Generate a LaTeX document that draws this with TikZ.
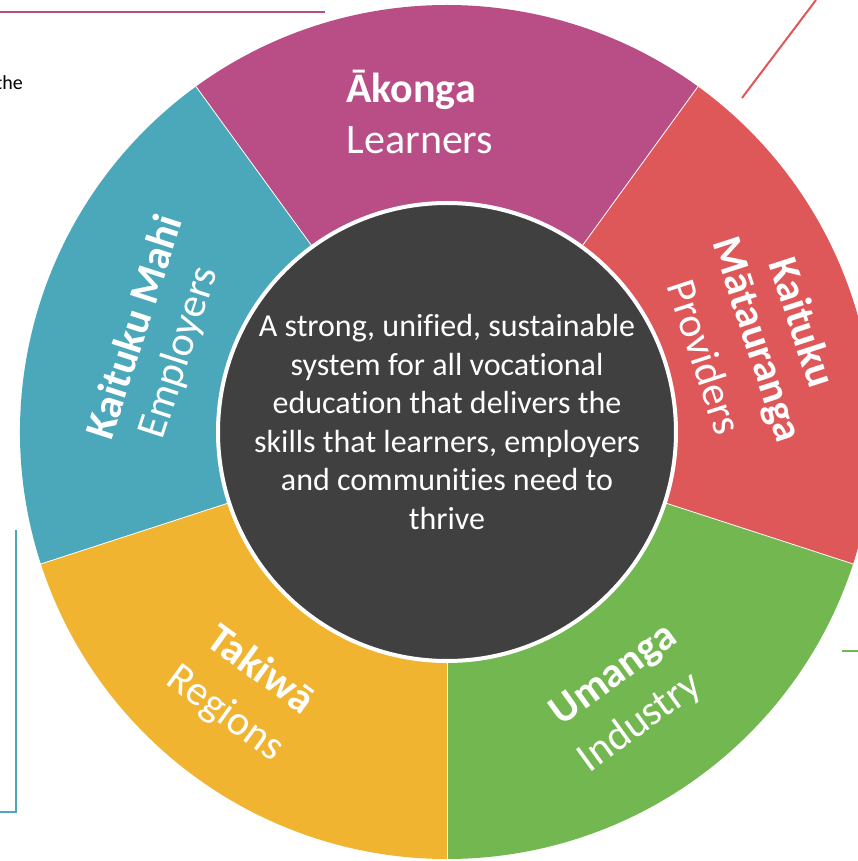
\documentclass[tikz,border=0pt]{standalone}
\usepackage{fontspec}
\setmainfont{Carlito}[Ligatures=NoCommon]

\definecolor{akonga}{HTML}{B94E86}
\definecolor{mahi}{HTML}{4BA8BB}
\definecolor{matauranga}{HTML}{DE5759}
\definecolor{umanga}{HTML}{72B750}
\definecolor{takiwa}{HTML}{F1B430}
\definecolor{coregrey}{HTML}{404040}

\begin{document}
\begin{tikzpicture}[x=1pt, y=1pt,
    ringtitle/.style={text=white, font=\fontsize{42}{51}\selectfont\bfseries},
    ringsub/.style={text=white, font=\fontsize{42}{51}\selectfont}]

  \useasboundingbox (-447,-429) rectangle (411,432);

  %%%%%%%%%%%%%%%%%%%%%%%%%%%%%%%%%%%%%%%%%%%%%%%%%
  \begin{scope}
    % Ring sectors
    \fill[akonga] (0,0) -- (54:427pt) arc[start angle=54, end angle=126, radius=427pt] -- cycle;
    \fill[mahi] (0,0) -- (126:427pt) arc[start angle=126, end angle=198, radius=427pt] -- cycle;
    \fill[takiwa] (0,0) -- (198:427pt) arc[start angle=198, end angle=270, radius=427pt] -- cycle;
    \fill[umanga] (0,0) -- (270:427pt) arc[start angle=270, end angle=342, radius=427pt] -- cycle;
    \fill[matauranga] (0,0) -- (-18:427pt) arc[start angle=-18, end angle=54, radius=427pt] -- cycle;

    % Thin white gaps
    \foreach \a in {54,126,198,270,342}
      \draw[white, line width=0.8pt] (0,0) -- (\a:427pt);
  \end{scope}

  %%%%%%%%%%%%%%%%%%%%%%%%%%%%%%%%%%%%%%%%%%%%%%%%%
  \begin{scope}
    % Core
    \node[circle, fill=coregrey, draw=white, line width=4pt, minimum size=458pt, inner sep=0pt] (core) at (0,0) {};
    \node[text=white, align=center, font=\fontsize{32}{38.5}\selectfont] (vision) at (0,10)
      {A strong, unified, sustainable\\system for all vocational\\education that delivers the\\skills that learners, employers\\and communities need to\\thrive};
  \end{scope}

  %%%%%%%%%%%%%%%%%%%%%%%%%%%%%%%%%%%%%%%%%%%%%%%%%
  \begin{scope}
    % Labels
    \node[ringtitle] (akongaT) at (-36,342) {Ākonga};
    \node[ringsub] (akongaS) at (-27,292) {Learners};

    \node[ringtitle, rotate=72] (mahiT) at (161.4:331) {Kaituku Mahi};
    \node[ringsub, rotate=72] (mahiS) at (163.5:279) {Employers};

    \node[ringtitle, rotate=-72] (matT1) at (17.2:373) {Kaituku};
    \node[ringtitle, rotate=-72] (matT2) at (16.6:321) {Mātauranga};
    \node[ringsub, rotate=-72] (matS) at (16.2:269) {Providers};

    \node[ringtitle, rotate=-36] (takiwaT) at (231.9:300) {Takiwā};
    \node[ringsub, rotate=-36] (takiwaS) at (231.8:359) {Regions};

    \node[ringtitle, rotate=36] (umangaT) at (-55.5:296) {Umanga};
    \node[ringsub, rotate=36] (umangaS) at (-56.4:349) {Industry};
  \end{scope}

  %%%%%%%%%%%%%%%%%%%%%%%%%%%%%%%%%%%%%%%%%%%%%%%%%
  % Cut-off pieces round the ring
  \draw[akonga, line width=2pt] (-447,420) -- (-122,420);
  \draw[matauranga, line width=2pt] (295,334) -- (369,432);
  \draw[umanga, line width=2pt] (395,-219) -- (411,-219);
  \draw[mahi, line width=2pt] (-431,-98) -- (-431,-380) -- (-447,-380);
  \node[anchor=base east, inner sep=0pt, font=\fontsize{20}{24}\selectfont] (frag) at (-424,342) {the};

\end{tikzpicture}
\end{document}
